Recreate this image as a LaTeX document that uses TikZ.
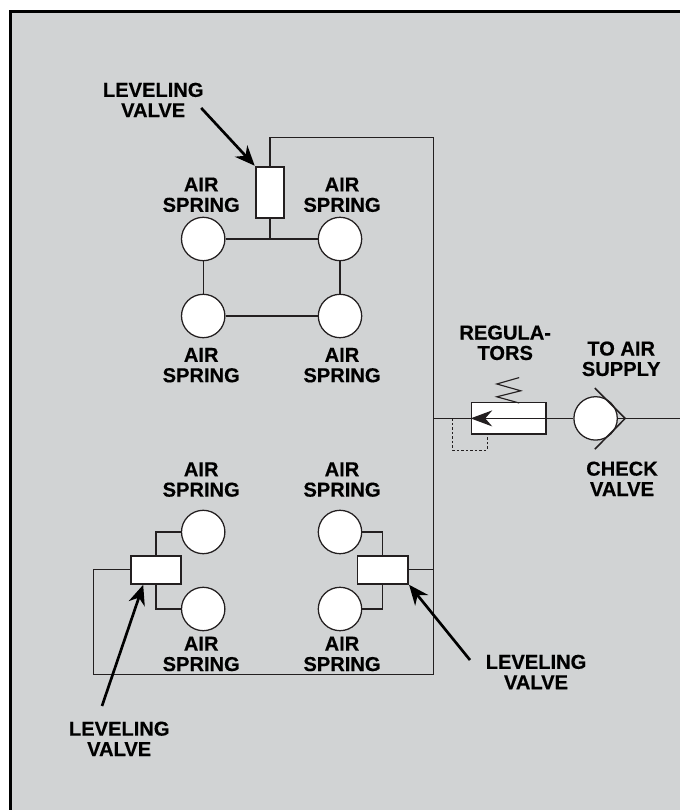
\documentclass[tikz,border=0pt]{standalone}
\usepackage{fontspec}
\setmainfont{Liberation Sans}[BoldFeatures={FakeBold=0.4}]
\usetikzlibrary{arrows.meta}
\definecolor{panel}{RGB}{209,211,212}
\definecolor{ink}{RGB}{35,31,32}
\tikzset{
  spring/.style={circle,draw=ink,fill=white,line width=0.9pt,inner sep=0pt,minimum size=1.085cm},
  valve/.style={rectangle,draw=ink,fill=white,line width=1.4pt,inner sep=0pt},
  lbl/.style={align=center,font=\fontsize{14.3}{14.5}\selectfont\bfseries,text=black,inner sep=0pt},
  pipe/.style={draw=ink,line width=0.9pt},
  pointer/.style={draw=black,line width=1.9pt,-{Stealth[length=5mm,width=4.2mm]}}
}
\begin{document}
\begin{tikzpicture}[line cap=butt]
\useasboundingbox (0,0) rectangle (17,20.25);
\draw[fill=panel,draw=black,line width=2.2pt] (0.2625,-0.2) rectangle (17.2,19.96);
% air springs
\node[spring] (as1) at (5.08,14.275) {};
\node[spring] (as2) at (8.5,14.275) {};
\node[spring] (as3) at (5.08,12.35) {};
\node[spring] (as4) at (8.5,12.35) {};
\node[spring] (as5) at (5.08,6.95) {};
\node[spring] (as6) at (5.08,5.025) {};
\node[spring] (as7) at (8.5,6.95) {};
\node[spring] (as8) at (8.5,5.025) {};
\node[spring] (chk) at (14.89,9.79) {};
% valves
\node[valve,minimum width=0.715cm,minimum height=1.275cm] (lv1) at (6.75,15.445) {};
\node[valve,minimum width=1.265cm,minimum height=0.7cm] (lv2) at (3.9,6.005) {};
\node[valve,minimum width=1.265cm,minimum height=0.7cm] (lv3) at (9.57,6.005) {};
\node[valve,minimum width=1.87cm,minimum height=0.79cm,line width=1.1pt] (reg) at (12.72,9.79) {};
% junctions
\coordinate (j1) at (6.75,14.275);
\coordinate (tr) at (10.83,16.81);
\coordinate (br) at (10.83,3.38);
\coordinate (bl) at (2.34,3.38);
\coordinate (m1) at (10.83,9.79);
\coordinate (m2) at (10.83,6.005);
\coordinate (out) at (17,9.79);
\coordinate (tip) at (15.63,9.79);
\coordinate (d1) at (11.31,9.79);
\coordinate (d2) at (12.18,9.395);
% pipes
\draw[pipe] (as1) -- (as2);
\draw[pipe] (as3) -- (as4);
\draw[pipe] (as1) -- (as3);
\draw[pipe] (as2) -- (as4);
\draw[pipe] (j1) -- (lv1);
\draw[pipe] (lv1.north) |- (tr) -- (br) -- (bl) |- (lv2.west);
\draw[pipe] (lv3.east) -- (m2);
\draw[pipe] (as5) -| (lv2.north);
\draw[pipe] (as6) -| (lv2.south);
\draw[pipe] (as7) -| (lv3.north);
\draw[pipe] (as8) -| (lv3.south);
\draw[pipe] (m1) -- (chk);
\draw[pipe] (tip) -- (chk);
\draw[pipe] (tip) -- (out);
% regulator
\draw[pipe,-{Stealth[length=5.4mm,width=4mm]}] (reg.east) -- (reg.west);
\draw[pipe,line width=0.8pt] (12.98,10.175) -- (12.42,10.33) -- (13.02,10.48) -- (12.42,10.65) -- (12.98,10.81);
\draw[pipe,line width=0.7pt,dash pattern=on 1.8pt off 1.4pt] (d1) -- (11.31,9.0) -| (d2);
% check valve
\draw[pipe,line width=1.1pt] (14.87,10.55) -- (tip) -- (14.87,9.02);
% labels
\node[lbl] (t1) at (3.83,17.75) {LEVELING\\VALVE};
\node[lbl] (t2) at (5.03,15.38) {AIR\\SPRING};
\node[lbl] (t3) at (8.55,15.38) {AIR\\SPRING};
\node[lbl] (t4) at (5.03,11.12) {AIR\\SPRING};
\node[lbl] (t5) at (8.55,11.12) {AIR\\SPRING};
\node[lbl] (t6) at (12.63,11.68) {REGULA-\\TORS};
\node[lbl] (t7) at (15.53,11.28) {TO AIR\\SUPPLY};
\node[lbl] (t8) at (15.55,8.28) {CHECK\\VALVE};
\node[lbl] (t9) at (5.03,8.26) {AIR\\SPRING};
\node[lbl] (t10) at (8.55,8.26) {AIR\\SPRING};
\node[lbl] (t11) at (5.03,3.9) {AIR\\SPRING};
\node[lbl] (t12) at (8.55,3.9) {AIR\\SPRING};
\node[lbl] (t13) at (13.4,3.45) {LEVELING\\VALVE};
\node[lbl] (t14) at (2.98,1.78) {LEVELING\\VALVE};
% pointers
\coordinate (p1) at (5.03,17.55);
\coordinate (p2) at (11.75,3.75);
\coordinate (p3) at (2.55,2.6);
\draw[pointer] (p1) -- (lv1.north west);
\draw[pointer] (p2) -- (lv3.south east);
\draw[pointer] (p3) -- (3.58,5.63);
\end{tikzpicture}
\end{document}
